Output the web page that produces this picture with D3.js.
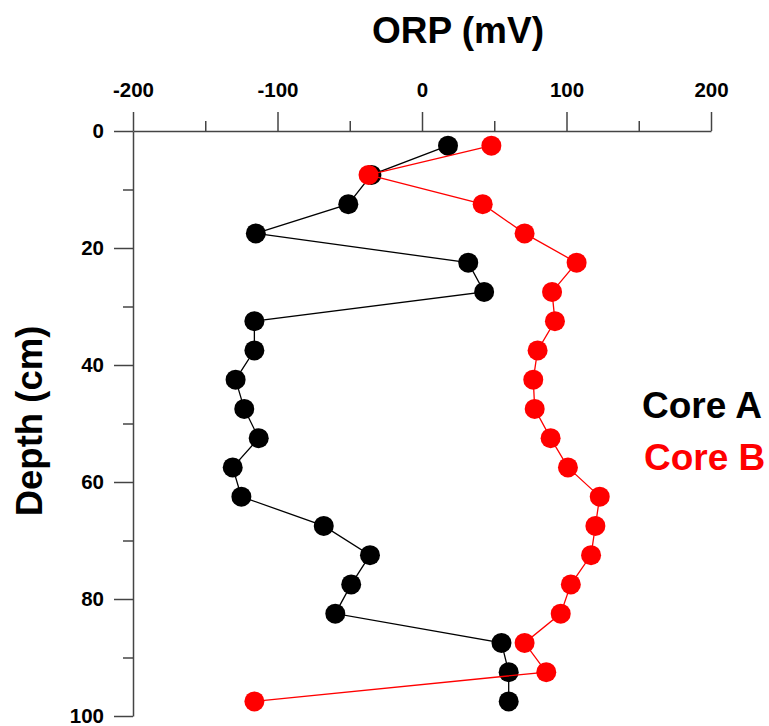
<!DOCTYPE html>
<html>
<head>
<meta charset="utf-8">
<script src="https://cdn.jsdelivr.net/npm/d3@7"></script>
<style>
  html, body { margin: 0; padding: 0; background: #fff; }
  svg { display: block; font-family: "Liberation Sans", Arial, Helvetica, sans-serif; }
</style>
</head>
<body>
<svg id="chart" width="769" height="726"></svg>
<script>
// ---- data ----
const depths = [2.5, 7.5, 12.5, 17.5, 22.5, 27.5, 32.5, 37.5, 42.5, 47.5,
                52.5, 57.5, 62.5, 67.5, 72.5, 77.5, 82.5, 87.5, 92.5, 97.5];
const coreA = [18, -35, -51, -115, 32, 43, -116, -116, -129, -123,
               -113, -131, -125, -68, -36, -49, -60, 55, 60, 60];
const coreB = [48, -37, 42, 71, 107, 90, 92, 80, 77, 78,
               89, 101, 123, 120, 117, 103, 96, 71, 86, -116];
const xMajorTicks = [-200, -100, 0, 100, 200];
const xMinorTicks = [-150, -50, 50, 150];
const yMajorTicks = [0, 20, 40, 60, 80, 100];
const yMinorTicks = [10, 30, 50, 70, 90];
const seriesNames = ["Core A", "Core B"];
const seriesColors = ["#000000", "#ff0000"];

// ---- layout ----
const svg = d3.select("#chart");
const x = d3.scaleLinear().domain([-200, 200]).range([133, 711]);
const y = d3.scaleLinear().domain([0, 100]).range([131, 716]);
const axisColor = "#444";
const fmt = d => String(d);

// x axis (top)
const gx = svg.append("g").attr("transform", `translate(0,${y(0)})`);
gx.call(d3.axisTop(x).tickValues(xMajorTicks).tickSize(19).tickPadding(15)
        .tickFormat(fmt).tickSizeOuter(0));
const gxm = svg.append("g").attr("transform", `translate(0,${y(0)})`);
gxm.call(d3.axisTop(x).tickValues(xMinorTicks).tickSize(10).tickFormat("").tickSizeOuter(0));
gxm.select(".domain").remove();

// y axis (left)
const gy = svg.append("g").attr("transform", `translate(${x(-200)},0)`);
gy.call(d3.axisLeft(y).tickValues(yMajorTicks).tickSize(19).tickPadding(10)
        .tickFormat(fmt).tickSizeOuter(0));
const gym = svg.append("g").attr("transform", `translate(${x(-200)},0)`);
gym.call(d3.axisLeft(y).tickValues(yMinorTicks).tickSize(10).tickFormat("").tickSizeOuter(0));
gym.select(".domain").remove();

svg.selectAll(".domain, .tick line").attr("stroke", axisColor).attr("stroke-width", 1.5);
svg.selectAll(".tick text").attr("font-size", 20.5).attr("font-weight", "bold")
   .attr("fill", "#000")
   .attr("font-family", '"Liberation Sans", Arial, Helvetica, sans-serif');

// titles
svg.append("text").attr("x", 458).attr("y", 43).attr("text-anchor", "middle")
   .attr("font-size", 37).attr("font-weight", "bold").text("ORP (mV)");
svg.append("text").attr("transform", "translate(42,421) rotate(-90)")
   .attr("text-anchor", "middle").attr("font-size", 36.5).attr("font-weight", "bold")
   .text("Depth (cm)");

// series
const series = [coreA, coreB];
const line = d3.line().x(d => x(d[0])).y(d => y(d[1]));
series.forEach((vals, i) => {
  const pts = vals.map((v, j) => [v, depths[j]]);
  const g = svg.append("g");
  g.append("path").datum(pts).attr("d", line).attr("fill", "none")
   .attr("stroke", seriesColors[i]).attr("stroke-width", 1.3);
  g.selectAll("circle").data(pts).join("circle")
   .attr("cx", d => x(d[0])).attr("cy", d => y(d[1])).attr("r", 10)
   .attr("fill", seriesColors[i]);
});

// legend
const legendPos = [[642, 418], [644, 470]];
seriesNames.forEach((name, i) => {
  svg.append("text").attr("x", legendPos[i][0]).attr("y", legendPos[i][1])
     .attr("font-size", 37).attr("font-weight", "bold")
     .attr("fill", seriesColors[i]).text(name);
});
</script>
</body>
</html>
